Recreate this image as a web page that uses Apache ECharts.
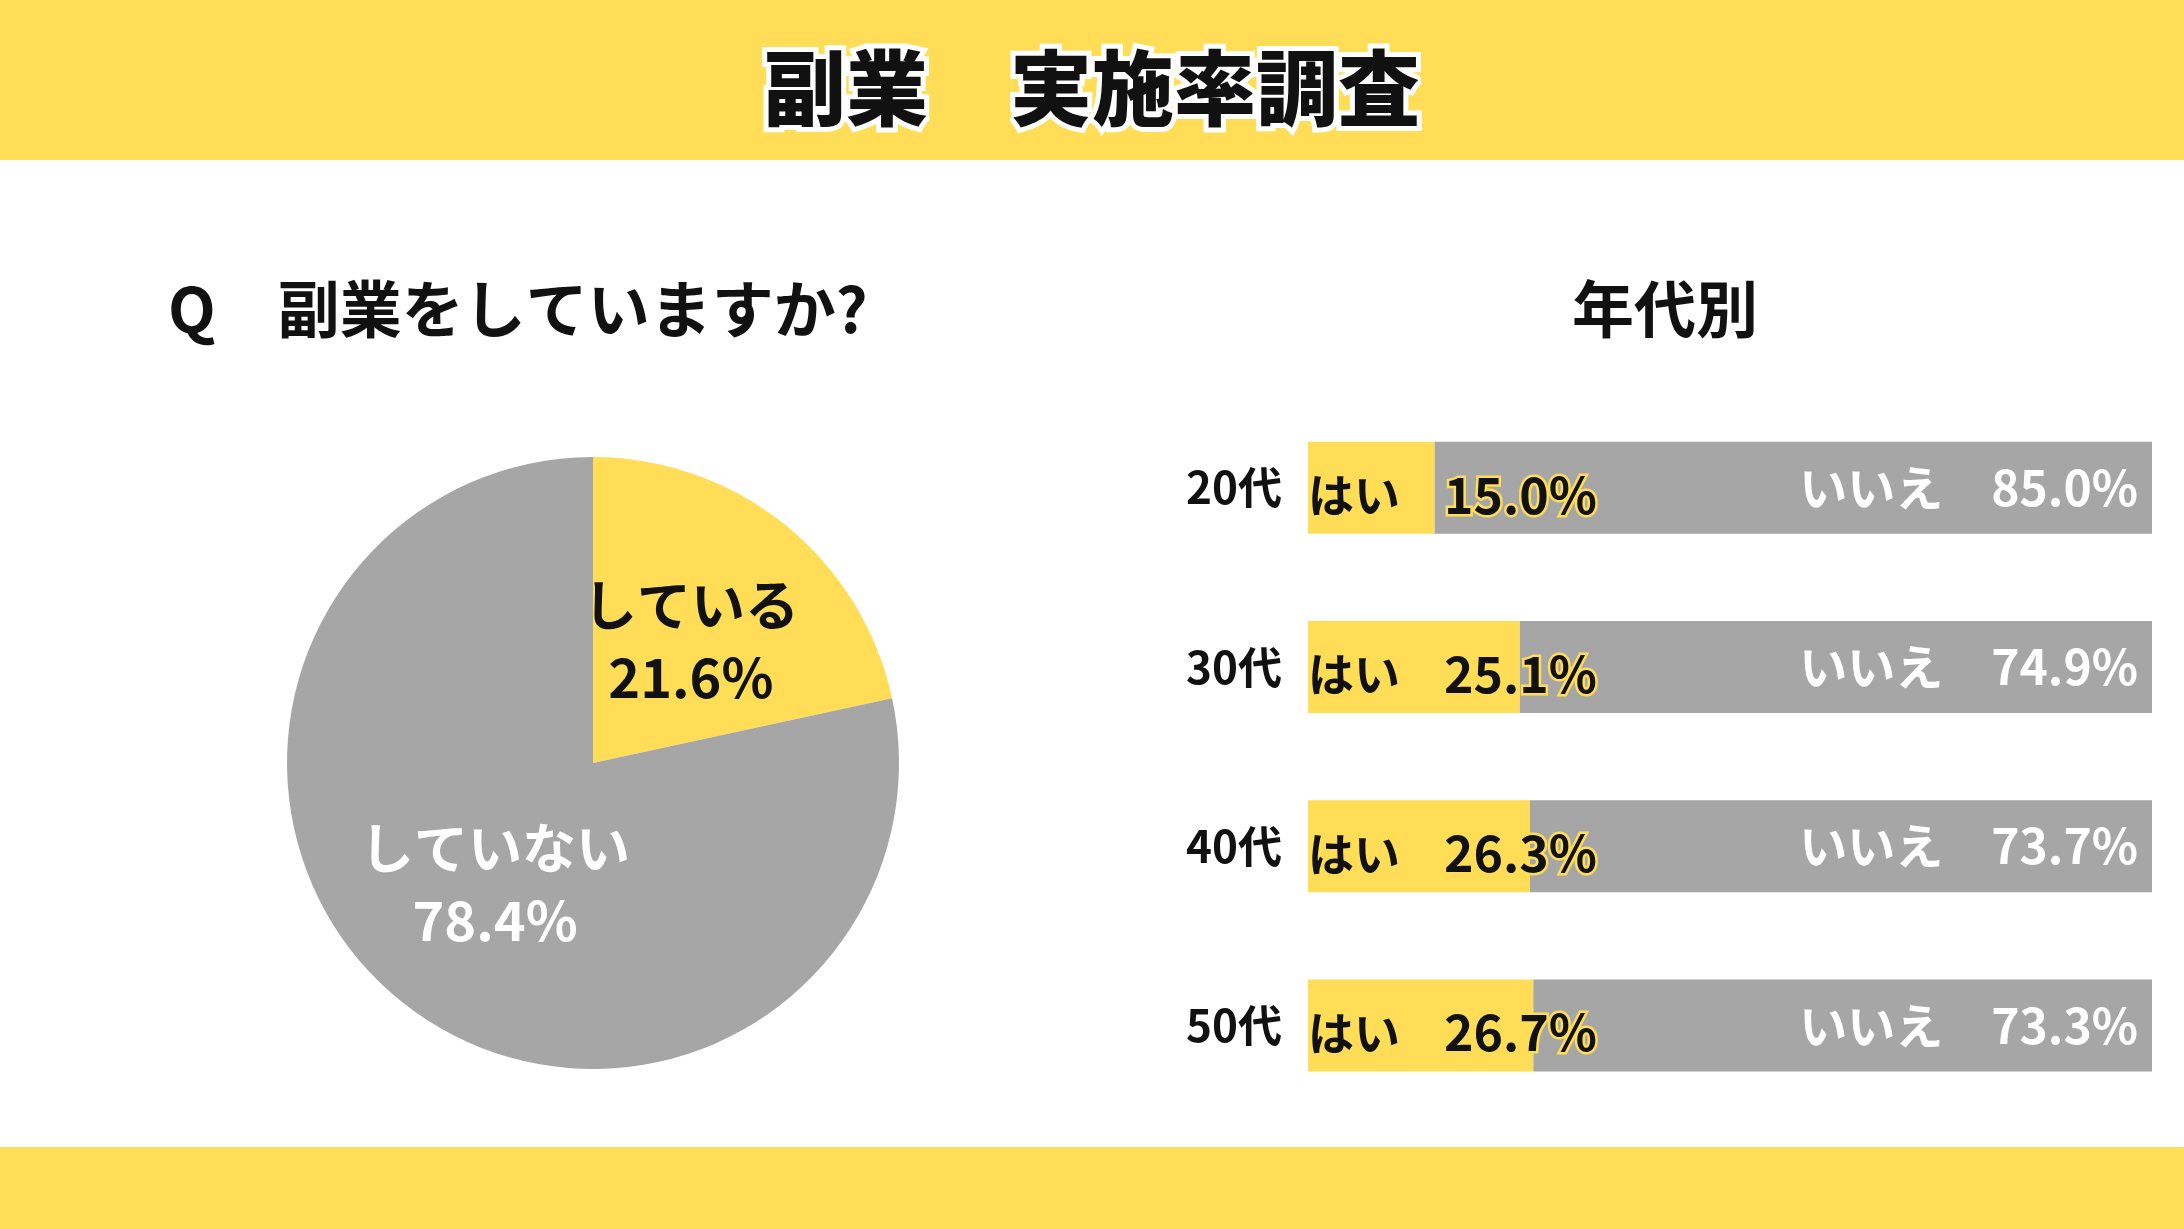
<!DOCTYPE html>
<html>
<head>
<meta charset="utf-8">
<script src="https://cdn.jsdelivr.net/npm/echarts@6/dist/echarts.min.js"></script>
<style>
  html, body { margin: 0; padding: 0; background: #fff; }
  #main { width: 2184px; height: 1229px; }
</style>
</head>
<body>
<div id="main"></div>
<script>
var FONT = '"Noto Sans CJK JP", "Noto Sans", sans-serif';
var YELLOW = '#FFDD57';
var GRAY = '#A6A6A6';

// 全体
var pieNames = ['している', 'していない'];
var pieValues = [21.6, 78.4];

// 年代別
var ages = ['20代', '30代', '40代', '50代'];
var yesValues = [15.0, 25.1, 26.3, 26.7];
var noValues = [85.0, 74.9, 73.7, 73.3];

var chart = echarts.init(document.getElementById('main'));

var option = {
  backgroundColor: '#fff',
  animation: false,
  graphic: [
    { type: 'rect', shape: { x: 0, y: 0, width: 2184, height: 160 }, style: { fill: YELLOW } },
    { type: 'rect', shape: { x: 0, y: 1147, width: 2184, height: 82 }, style: { fill: YELLOW } },
    {
      type: 'text', x: 1092, y: 88,
      style: {
        text: '副業　実施率調査', font: '900 82px ' + FONT, fill: '#111',
        align: 'center', verticalAlign: 'middle',
        stroke: '#fff', lineWidth: 10,
        shadowColor: 'rgba(0,0,0,0.6)', shadowBlur: 4, shadowOffsetX: 2, shadowOffsetY: 2
      }
    },
    {
      type: 'text', x: 168, y: 309,
      style: { text: 'Q　副業をしていますか?', font: 'bold 62px ' + FONT, fill: '#111', verticalAlign: 'middle' }
    },
    {
      type: 'text', x: 1665, y: 309,
      style: { text: '年代別', font: 'bold 62px ' + FONT, fill: '#111', align: 'center', verticalAlign: 'middle' }
    }
  ],
  grid: { left: 1308, right: 32, top: 398, bottom: 114 },
  xAxis: { type: 'value', min: 0, max: 100, show: false },
  yAxis: {
    type: 'category', data: ages, inverse: true,
    axisLine: { show: false }, axisTick: { show: false },
    axisLabel: { color: '#111', fontSize: 44, fontWeight: 'bold', fontFamily: FONT, margin: 26, padding: [34, 0, 0, 0] }
  },
  series: [
    {
      type: 'pie',
      center: [593, 763],
      radius: [0, 306],
      startAngle: 90,
      clockwise: true,
      label: {
        position: 'inside',
        fontFamily: FONT, fontWeight: 'bold', fontSize: 54, lineHeight: 72,
        formatter: function (p) { return p.name + '\n' + p.value.toFixed(1) + '%'; }
      },
      labelLine: { show: false },
      data: [
        { name: pieNames[0], value: pieValues[0], itemStyle: { color: YELLOW }, label: { color: '#111' } },
        { name: pieNames[1], value: pieValues[1], itemStyle: { color: GRAY }, label: { color: '#fff' } }
      ]
    },
    {
      type: 'bar', stack: 'age', barWidth: 92,
      itemStyle: { color: YELLOW },
      data: yesValues,
      label: {
        show: true, position: 'insideLeft', distance: 0,
        fontFamily: FONT, fontWeight: 'bold', padding: [14, 0, 0, 0],
        formatter: function (p) { return '{a|はい}{b|' + p.value.toFixed(1) + '%}'; },
        rich: {
          a: { fontSize: 46, fontWeight: 'bold', fontFamily: FONT, color: '#111', width: 136 },
          b: { fontSize: 50, fontWeight: 'bold', fontFamily: FONT, color: '#111', textBorderColor: YELLOW, textBorderWidth: 5 }
        }
      }
    },
    {
      type: 'bar', stack: 'age', barWidth: 92,
      itemStyle: { color: GRAY },
      data: noValues,
      label: {
        show: true, position: 'insideRight', distance: 14,
        fontFamily: FONT, fontWeight: 'bold', fontSize: 48, color: '#fff', padding: [14, 0, 0, 0],
        formatter: function (p) { return 'いいえ　' + p.value.toFixed(1) + '%'; }
      }
    }
  ]
};

chart.setOption(option);
</script>
</body>
</html>
